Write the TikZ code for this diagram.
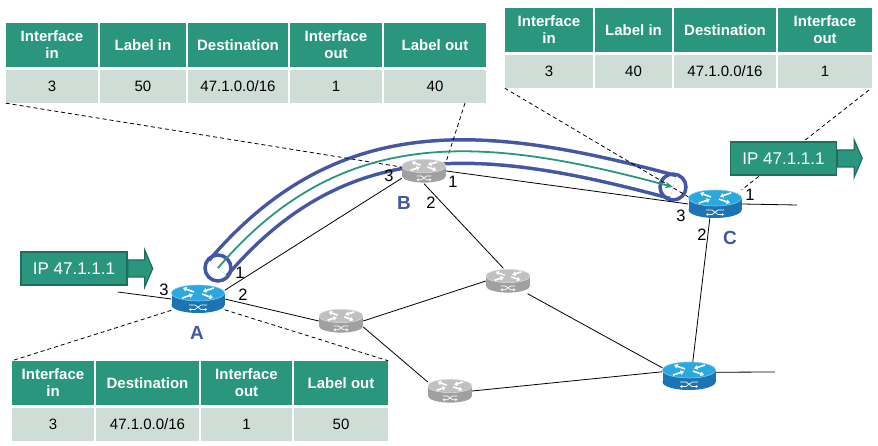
\documentclass[tikz,border=0pt]{standalone}
\usepackage{fontspec}
\setmainfont{Liberation Sans}
\usetikzlibrary{arrows.meta}

\definecolor{lspblue}{RGB}{68,86,166}
\definecolor{lspgreen}{RGB}{42,150,126}
\definecolor{hdrgreen}{RGB}{42,150,126}
\definecolor{ipborder}{RGB}{30,110,92}
\definecolor{rowgray}{RGB}{206,222,215}
\definecolor{rtrtop}{RGB}{44,168,224}
\definecolor{rtrside}{RGB}{28,116,178}
\definecolor{graytop}{RGB}{192,192,192}
\definecolor{grayside}{RGB}{160,160,160}

\tikzset{
  toparrow/.style={white,line width=1.6pt,-{Triangle[length=3.5pt,width=4.5pt]}},
  sidearrow/.style={white,line width=0.7pt,-{Triangle[length=2pt,width=2.5pt]}},
  pics/router/.style 2 args={code={
    \fill[#2] (-26.5,-6) rectangle (26.5,6);
    \fill[#2] (0,6) ellipse[x radius=26.5,y radius=8];
    \fill[#1,draw=#1!60!white,line width=0.6pt] (0,-6) ellipse[x radius=26.5,y radius=8];
    \draw[toparrow] (-4,-7) -- (-15,-11);
    \draw[toparrow] (4,-5) -- (15,-1);
    \draw[toparrow] (16,-11) -- (5,-7.5);
    \draw[toparrow] (-16,-1) -- (-5,-4.5);
    \draw[sidearrow] (-9,6) -- (-3,6) -- (3,10.5) -- (9,10.5);
    \draw[sidearrow] (9,6) -- (3,6) -- (-3,10.5) -- (-9,10.5);
  }},
  rtr/.style={inner sep=0,minimum width=53pt,minimum height=28pt},
  grtr/.style={inner sep=0,minimum width=44pt,minimum height=25pt},
  link/.style={black,line width=0.8pt},
  callout/.style={black,line width=0.8pt,dash pattern=on 4pt off 3pt},
  tube/.style={draw=lspblue,line width=3.5pt,double=white,double distance=20pt},
  ring/.style={draw=lspblue,line width=3.5pt},
  lsppath/.style={draw=lspgreen,line width=1.8pt,-{Stealth[length=8pt,width=6.5pt]}},
  hdrcell/.style={fill=hdrgreen,text=white,align=center,inner sep=0,
    minimum height=44pt,font=\bfseries\fontsize{15}{17}\selectfont},
  rowcell/.style={fill=rowgray,inner sep=0,minimum height=33pt,
    font=\fontsize{15}{18}\selectfont},
  ipbox/.style={fill=hdrgreen,draw=ipborder,line width=1.4pt,text=white,
    inner sep=0,minimum width=106pt,minimum height=33pt,
    font=\fontsize{17}{20}\selectfont},
  iparrow/.style={fill=hdrgreen,draw=ipborder,line width=1.2pt},
  num/.style={inner sep=0,font=\fontsize{16.5}{18}\selectfont},
  rname/.style={inner sep=0,text=lspblue,font=\bfseries\fontsize{19}{22}\selectfont},
}

\begin{document}
\begin{tikzpicture}[x=1pt,y=-1pt]
  \useasboundingbox (0,0) rectangle (878,446);

  % routers
  \node[rtr] (A) at (198,299) {};
  \node[grtr] (B) at (424,171) {};
  \node[rtr] (C) at (715,204) {};
  \node[grtr] (D) at (341,321) {};
  \node[grtr] (E) at (508,281) {};
  \node[grtr] (F) at (450,391) {};
  \node[rtr] (G) at (689,376) {};
  \coordinate (aL) at (118,292);
  \coordinate (cR) at (797,205);
  \coordinate (gR) at (775,372);

  % label switched path
  \coordinate (lspS) at (218,268);
  \coordinate (lspE) at (673,187);
  \draw[tube] (lspS) .. controls (341,124) and (481,135) .. (lspE);
  \draw[ring] (lspS) circle[radius=13];
  \draw[ring] (lspE) circle[radius=13];

  % links
  \draw[link] (aL) -- (A.west);
  \draw[link] (A.18) -- (B.198);
  \draw[link] (A.east) -- (D.west);
  \draw[link] (D.east) -- (E.west);
  \draw[link] (D.-15) -- (F.158);
  \draw[link] (B.south) -- (E.110);
  \draw[link] (B.east) -- (C.west);
  \draw[link] (C.east) -- (cR);
  \draw[link] (C.-110) -- (G.75);
  \draw[link] (E.-33) -- (G.163);
  \draw[link] (F.east) -- (G.171);
  \draw[link] (G.8) -- (gR);

  % tables
  \foreach \xa/\xb/\hd/\dv [count=\i] in {5/99/{Interface\\in}/3,
      99/187/{Label in}/50, 187/289/{Destination}/{47.1.0.0/16},
      289/383/{Interface\\out}/1, 383/487/{Label out}/40}{
    \node[hdrcell,minimum width={(\xb-\xa-2)*1pt}] (tabB-h\i)
      at ({(\xa+\xb)/2},45) {\hd};
    \node[rowcell,minimum width={(\xb-\xa-2)*1pt}] (tabB-d\i)
      at ({(\xa+\xb)/2},86.5) {\dv};
  }
  \foreach \xa/\xb/\hd/\dv [count=\i] in {504/594/{Interface\\in}/3,
      594/673/{Label in}/40, 673/777/{Destination}/{47.1.0.0/16},
      777/873/{Interface\\out}/1}{
    \node[hdrcell,minimum width={(\xb-\xa-2)*1pt}] (tabC-h\i)
      at ({(\xa+\xb)/2},30) {\hd};
    \node[rowcell,minimum width={(\xb-\xa-2)*1pt}] (tabC-d\i)
      at ({(\xa+\xb)/2},71.5) {\dv};
  }
  \foreach \xa/\xb/\hd/\dv [count=\i] in {11/95/{Interface\\in}/3,
      95/200/{Destination}/{47.1.0.0/16}, 200/293/{Interface\\out}/1,
      293/389/{Label out}/50}{
    \node[hdrcell,minimum width={(\xb-\xa-2)*1pt}] (tabA-h\i)
      at ({(\xa+\xb)/2},383) {\hd};
    \node[rowcell,minimum width={(\xb-\xa-2)*1pt}] (tabA-d\i)
      at ({(\xa+\xb)/2},424.5) {\dv};
  }

  % callouts
  \coordinate (tabBr) at (465,103);
  \coordinate (tabCr) at (869,90);
  \draw[callout] (tabB-d1.south west) -- (B.170);
  \draw[callout] (tabBr) -- (B.23);
  \draw[callout] (tabC-d1.south west) -- (C.165);
  \draw[callout] (tabCr) -- (C.north east);
  \draw[callout] (A.203) -- (tabA-h1.north west);
  \draw[callout] (A.-22) -- (tabA-h4.north east);

  \pic at (A) {router={rtrtop}{rtrside}};
  \pic[scale=0.83] at (B) {router={graytop}{grayside}};
  \pic at (C) {router={rtrtop}{rtrside}};
  \pic[scale=0.83] at (D) {router={graytop}{grayside}};
  \pic[scale=0.83] at (E) {router={graytop}{grayside}};
  \pic[scale=0.83] at (F) {router={graytop}{grayside}};
  \pic at (G) {router={rtrtop}{rtrside}};

  \draw[lsppath] (lspS) .. controls (341,124) and (481,135) .. (lspE);

  % packets
  \node[ipbox] (ipA) at (74,268.5) {IP 47.1.1.1};
  \draw[iparrow] (ipA.east) ++(0,-8.5) -- ++(17,0) -- ++(0,-10)
    -- ++(8,18.5) -- ++(-8,18.5) -- ++(0,-10) -- ++(-17,0) -- cycle;
  \node[ipbox] (ipC) at (783.5,158.5) {IP 47.1.1.1};
  \draw[iparrow] (ipC.east) ++(0,-8.5) -- ++(17,0) -- ++(0,-10)
    -- ++(8,18.5) -- ++(-8,18.5) -- ++(0,-10) -- ++(-17,0) -- cycle;

  % interface numbers
  \node[num] (nA3) at (164,290) {3};
  \node[num] (nA1) at (240,273) {1};
  \node[num] (nA2) at (243,295) {2};
  \node[num] (nB3) at (389,176) {3};
  \node[num] (nB1) at (453,182) {1};
  \node[num] (nB2) at (431,203) {2};
  \node[num] (nC1) at (750,195) {1};
  \node[num] (nC3) at (681,216) {3};
  \node[num] (nC2) at (702,235) {2};
  \node[rname] (lblA) at (197,333) {A};
  \node[rname] (lblB) at (404,203) {B};
  \node[rname] (lblC) at (730,238) {C};
\end{tikzpicture}
\end{document}
